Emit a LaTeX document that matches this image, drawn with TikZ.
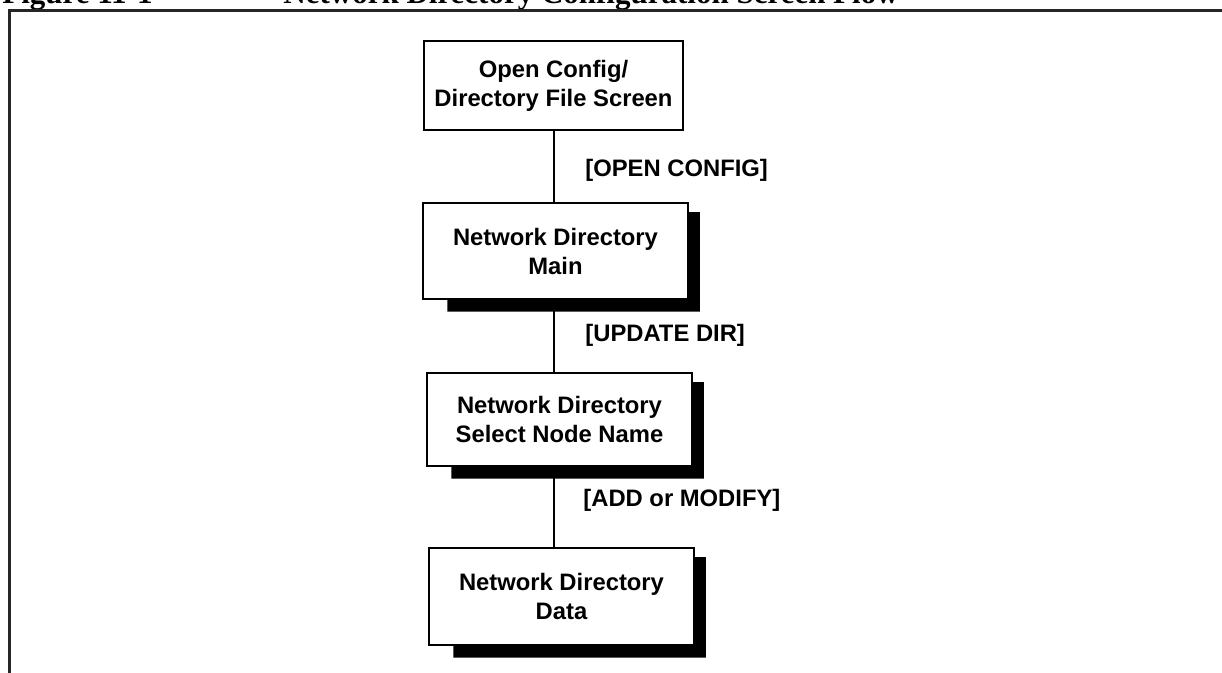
\documentclass[tikz,border=0pt]{standalone}
\usepackage{fontspec}
\setmainfont{Liberation Sans}
\newfontfamily\titlefont{Liberation Serif}
\usetikzlibrary{calc}
\tikzset{
  flowbox/.style={draw=black, fill=white, line width=0.75pt, align=center,
    font=\fontsize{11.9}{14.5}\selectfont\bfseries, inner sep=0pt},
  topbox/.style={flowbox, line width=1.4pt},
  conn/.style={line width=1pt},
  lbl/.style={anchor=west, font=\fontsize{11.9}{14.5}\selectfont\bfseries, inner sep=0pt},
  shadowfill/.style={fill=black, draw=none},
  frame/.style={line width=1.5pt, black!85},
  titletext/.style={anchor=base west, inner sep=0pt, font=\titlefont\fontsize{15.5}{18}\selectfont\bfseries}
}
\newcommand{\boxshadow}[1]{%
  \fill[shadowfill] ($(#1.north east)+(0,10)$) -- ++(11,0) -- ($(#1.south east)+(11,12)$)
    -- ($(#1.south west)+(25,12)$) -- ($(#1.south west)+(25,0)$) -- (#1.south east) -- cycle;}
\begin{document}
\begin{tikzpicture}[x=0.5pt, y=-0.5pt]
\useasboundingbox (0,0) rectangle (1222,673);
% title (cropped at top)
\node[titletext] (t1) at (2,4) {Figure 11-1};
\node[titletext] (t2) at (283,4) {Network Directory Configuration Screen Flow};
% frame
\draw[frame] (9,680) -- (9,11) -- (1230,11);
% boxes
\node[topbox, minimum width=129.5pt, minimum height=44.5pt] (b1) at (553.5,85.5) {Open Config/\\Directory File Screen};
\node[flowbox, minimum width=132.5pt, minimum height=48pt] (b2) at (555.5,251) {Network Directory\\Main};
\node[flowbox, minimum width=132.5pt, minimum height=46.5pt] (b3) at (559.5,419.5) {Network Directory\\Select Node Name};
\node[flowbox, minimum width=132.5pt, minimum height=48.5pt] (b4) at (561.5,596.5) {Network Directory\\Data};
% connectors
\draw[conn] (b1.south) -- (b1.south |- b2.north);
\draw[conn] (b2.south -| b1.south) -- (b3.north -| b1.south);
\draw[conn] (b3.south -| b1.south) -- (b4.north -| b1.south);
% shadows
\boxshadow{b2}
\boxshadow{b3}
\boxshadow{b4}
% redraw boxes on top of their shadows
\node[flowbox, minimum width=132.5pt, minimum height=48pt] at (b2) {Network Directory\\Main};
\node[flowbox, minimum width=132.5pt, minimum height=46.5pt] at (b3) {Network Directory\\Select Node Name};
\node[flowbox, minimum width=132.5pt, minimum height=48.5pt] at (b4) {Network Directory\\Data};
% labels
\node[lbl] (l1) at (585,170) {[OPEN CONFIG]};
\node[lbl] (l2) at (585,335) {[UPDATE DIR]};
\node[lbl] (l3) at (583,500) {[ADD or MODIFY]};
\end{tikzpicture}
\end{document}
